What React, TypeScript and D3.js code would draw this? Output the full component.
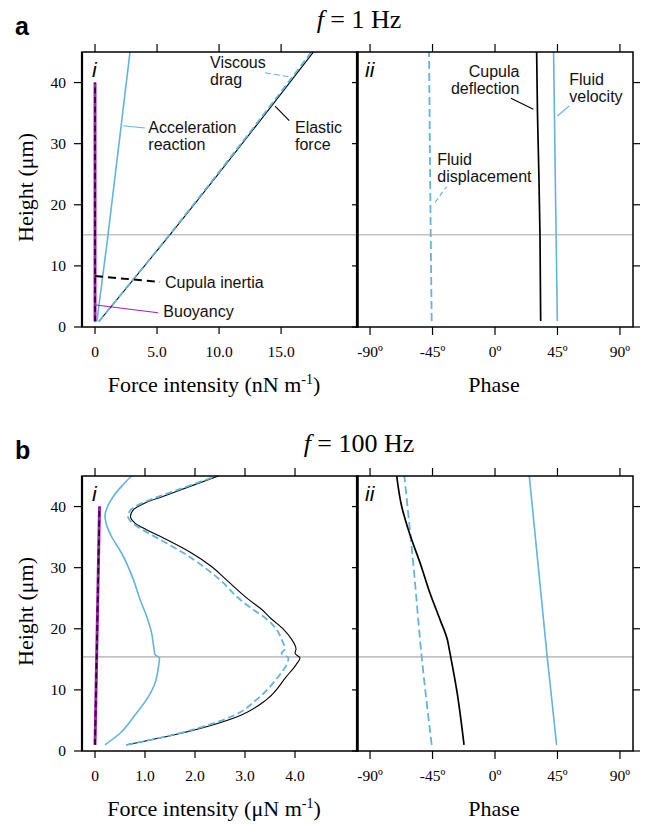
import React from "react";
import * as d3 from "d3";

type P = [number, number]; // [height µm, value]

// ---- tick values / labels ----
const heightTicks = [0, 10, 20, 30, 40];
const forceTicksA = [0, 5, 10, 15];
const forceTickLabelsA = ["0", "5.0", "10.0", "15.0"];
const forceTicksB = [0, 1, 2, 3, 4];
const forceTickLabelsB = ["0", "1.0", "2.0", "3.0", "4.0"];
const phaseTicks = [-90, -45, 0, 45, 90];
const phaseTickLabels = ["-90º", "-45º", "0º", "45º", "90º"];

// ---- f = 1 Hz : force intensity (nN m-1) ----
const aElastic: P[] = [[0.9, 0.32], [15.1, 6.05], [45, 17.6]];
const aViscous: P[] = [[0.9, 0.3], [15.1, 6.0], [45, 17.45]];
const aAccel: P[] = [[0.9, 0.15], [15.1, 1.05], [45, 2.82]];
const aInertia: P[] = [[0.9, 0], [40, 0]];
const aBuoyancy: P[] = [[0.9, 0], [40, 0]];
// ---- f = 1 Hz : phase (deg) ----
const aDispPhase: P[] = [[1, -45.6], [15.1, -46.3], [45, -47.5]];
const aDeflPhase: P[] = [[1, 32.9], [15.1, 32.4], [25, 31.6], [35, 30.6], [45, 30.0]];
const aVelPhase: P[] = [[1, 44.9], [15.1, 44.0], [45, 42.2]];

// ---- f = 100 Hz : force intensity (µN m-1) ----
const bElastic: P[] = [
  [1, 0.63], [2.9, 1.72], [5.9, 2.93], [8.4, 3.43], [12.2, 3.83], [14.1, 4.02], [15.2, 4.1],
  [16.0, 4.0], [16.7, 4.02], [18.3, 3.93], [19.9, 3.77], [21.6, 3.53], [23.2, 3.33], [24.8, 3.07],
  [28, 2.63], [30.2, 2.33], [32.4, 1.93], [34.6, 1.43], [36.2, 1.03], [37.3, 0.8], [38.4, 0.71],
  [39.5, 0.77], [40.6, 1.0], [41.7, 1.37], [43.3, 1.9], [45, 2.47],
];
const bViscous: P[] = [
  [1, 0.63], [2.9, 1.68], [5.9, 2.8], [8.4, 3.23], [12.2, 3.67], [14.1, 3.83], [15.2, 3.87],
  [16.0, 3.73], [16.7, 3.8], [18.3, 3.73], [19.9, 3.63], [21.6, 3.43], [23.1, 3.17], [24.8, 2.9],
  [28, 2.5], [32.4, 1.77], [34.6, 1.3], [36.2, 0.95], [37.3, 0.75], [38.4, 0.66], [39.5, 0.72],
  [40.6, 0.95], [41.7, 1.3], [43.3, 1.85], [45, 2.43],
];
const bAccel: P[] = [
  [1, 0.2], [2.9, 0.5], [5.9, 0.8], [8.4, 1.03], [11.1, 1.2], [13.8, 1.27], [15.2, 1.29],
  [15.8, 1.2], [16.7, 1.18], [19.4, 1.13], [22.1, 1.03], [24.8, 0.9], [28, 0.77], [32.4, 0.53],
  [35.1, 0.33], [37.3, 0.22], [38.4, 0.2], [40, 0.25], [41.7, 0.37], [43.3, 0.53], [45, 0.73],
];
const bInertia: P[] = [[1, 0], [40, 0.09]];
const bBuoyancy: P[] = [[1, 0], [40, 0.09]];
// ---- f = 100 Hz : phase (deg) ----
const bDispPhase: P[] = [[1, -45.6], [15.4, -52.8], [30, -58.6], [45, -65.3]];
const bDeflPhase: P[] = [
  [1, -22.3], [10, -27.6], [15.4, -31.9], [16.6, -32.9], [18.2, -34.3], [21.5, -39.6],
  [25.8, -46.8], [30, -52.8], [36.2, -62.4], [40, -67.2], [45, -70.8],
];
const bVelPhase: P[] = [[1, 44.4], [15.4, 37.6], [45, 24.7]];

const BLUE = "#62b4dc";
const PURPLE = "#a321b3";
const SERIF = "'Liberation Serif', 'Times New Roman', serif";
const SANS = "'Liberation Sans', Arial, sans-serif";

type Ann = { x: number; y: number; lines: string[]; anchor?: string };
type Leader = { x1: number; y1: number; x2: number; y2: number; color: string; dash?: string; w?: number };

const aForceNotes: Ann[] = [
  { x: 4.3, y: 31.75, lines: ["Acceleration", "reaction"] },
  { x: 16.12, y: 31.75, lines: ["Elastic", "force"] },
  { x: 9.27, y: 42.33, lines: ["Viscous", "drag"] },
  { x: 5.64, y: 6.43, lines: ["Cupula inertia"] },
  { x: 5.51, y: 1.6, lines: ["Buoyancy"] },
];
const aForceLeaders: Leader[] = [
  { x1: 2.26, y1: 32.94, x2: 4.03, y2: 32.56, color: BLUE },
  { x1: 13.7, y1: 41.6, x2: 15.86, y2: 40.86, color: BLUE, dash: "6,3" },
  { x1: 14.51, y1: 36.16, x2: 15.66, y2: 33.76, color: "#000" },
  { x1: 0, y1: 8.35, x2: 5.24, y2: 7.36, color: "#000", dash: "8,5", w: 2 },
  { x1: 0.08, y1: 3.6, x2: 5.08, y2: 2.34, color: PURPLE },
];
const aPhaseNotes: Ann[] = [
  { x: 17.6, y: 40.86, lines: ["Cupula", "deflection"], anchor: "end" },
  { x: 53.5, y: 39.6, lines: ["Fluid", "velocity"] },
  { x: -41.6, y: 26.5, lines: ["Fluid", "displacement"] },
];
const aPhaseLeaders: Leader[] = [
  { x1: 11.5, y1: 37.42, x2: 27.6, y2: 35.62, color: "#000" },
  { x1: 44.9, y1: 34.53, x2: 53.5, y2: 36.16, color: BLUE },
  { x1: -43.2, y1: 20.4, x2: -34.8, y2: 22.96, color: BLUE, dash: "5,3" },
];

type RowProps = {
  top: number;
  bottom: number;
  forceDomain: [number, number];
  forceTicks: number[];
  forceLabels: string[];
  elastic: P[]; viscous: P[]; accel: P[]; inertia: P[]; buoyancy: P[];
  disp: P[]; defl: P[]; vel: P[];
  band: number;
  title: string;
  letter: string;
  unit: string;
  forceNotes?: Ann[]; forceLeaders?: Leader[];
  phaseNotes?: Ann[]; phaseLeaders?: Leader[];
};

function Row(p: RowProps) {
  const FX0 = 82, FX1 = 358, PX0 = 357, PX1 = 633;
  const y = d3.scaleLinear().domain([0, 45]).range([p.bottom, p.top]);
  const xf = d3.scaleLinear().domain(p.forceDomain).range([FX0, FX1]);
  const xp = d3.scaleLinear().domain([-99.4, 99.4]).range([PX0, PX1]);
  const lf = d3.line<P>().x((d) => xf(d[1])).y((d) => y(d[0])).curve(d3.curveMonotoneY);
  const lp = d3.line<P>().x((d) => xp(d[1])).y((d) => y(d[0])).curve(d3.curveMonotoneY);
  const midY = (p.top + p.bottom) / 2;

  const notes = (arr: Ann[] | undefined, sx: d3.ScaleLinear<number, number>) =>
    (arr || []).map((a, i) => (
      <text key={i} x={sx(a.x)} y={y(a.y)} fontFamily={SANS} fontSize={16} textAnchor={a.anchor || "start"} fill="#111">
        {a.lines.map((t, j) => (
          <tspan key={j} x={sx(a.x)} dy={j === 0 ? 0 : 17}>{t}</tspan>
        ))}
      </text>
    ));
  const leaders = (arr: Leader[] | undefined, sx: d3.ScaleLinear<number, number>) =>
    (arr || []).map((l, i) => (
      <line key={i} x1={sx(l.x1)} y1={y(l.y1)} x2={sx(l.x2)} y2={y(l.y2)} stroke={l.color}
        strokeWidth={l.w || 1.1} strokeDasharray={l.dash} />
    ));

  return (
    <g>
      {/* titles */}
      <text x={15} y={p.top - 17} fontFamily={SANS} fontWeight="bold" fontSize={25}>{p.letter}</text>
      <text x={359} y={p.top - 24} textAnchor="middle" fontFamily={SERIF} fontSize={26}>
        <tspan fontStyle="italic">f</tspan> = {p.title}
      </text>

      {/* horizontal band line */}
      <line x1={FX0} x2={PX1} y1={y(p.band)} y2={y(p.band)} stroke="#c2c2c2" strokeWidth={1.6} />

      {/* ---- force panel ---- */}
      {heightTicks.map((t) => (
        <g key={t}>
          <line x1={FX0 - 8} x2={FX0} y1={y(t)} y2={y(t)} stroke="#000" strokeWidth={1.2} />
          <text x={FX0 - 16} y={y(t)} dy="0.35em" textAnchor="end" fontFamily={SERIF} fontSize={15.5}>{t}</text>
          <line x1={PX0 - 5} x2={PX0} y1={y(t)} y2={y(t)} stroke="#000" strokeWidth={1.2} />
          <line x1={PX1} x2={PX1 + 7} y1={y(t)} y2={y(t)} stroke="#000" strokeWidth={1.2} />
        </g>
      ))}
      {p.forceTicks.map((t, i) => (
        <g key={t}>
          <line x1={xf(t)} x2={xf(t)} y1={p.top - 8} y2={p.top} stroke="#000" strokeWidth={1.2} />
          <line x1={xf(t)} x2={xf(t)} y1={p.bottom} y2={p.bottom + 7} stroke="#000" strokeWidth={1.2} />
          <text x={xf(t)} y={p.bottom + 30} textAnchor="middle" fontFamily={SERIF} fontSize={15.5}>{p.forceLabels[i]}</text>
        </g>
      ))}
      {phaseTicks.map((t, i) => (
        <g key={t}>
          <line x1={xp(t)} x2={xp(t)} y1={p.top - 8} y2={p.top} stroke="#000" strokeWidth={1.2} />
          <line x1={xp(t)} x2={xp(t)} y1={p.bottom} y2={p.bottom + 8} stroke="#000" strokeWidth={1.2} />
          <text x={xp(t)} y={p.bottom + 30} textAnchor="middle" fontFamily={SERIF} fontSize={15.5}>{phaseTickLabels[i]}</text>
        </g>
      ))}

      {/* force series */}
      <path d={lf(p.accel) || ""} fill="none" stroke={BLUE} strokeWidth={1.6} />
      <path d={lf(p.elastic) || ""} fill="none" stroke="#000" strokeWidth={1.1} />
      <path d={lf(p.viscous) || ""} fill="none" stroke={BLUE} strokeWidth={1.8} strokeDasharray="7,3.5" />
      <path d={lf(p.buoyancy) || ""} fill="none" stroke={PURPLE} strokeWidth={3} />
      <path d={lf(p.inertia) || ""} fill="none" stroke="#000" strokeOpacity={0.75} strokeWidth={1.8} strokeDasharray="6,3.5" />
      {leaders(p.forceLeaders, xf)}
      {notes(p.forceNotes, xf)}

      {/* phase series */}
      <path d={lp(p.disp) || ""} fill="none" stroke={BLUE} strokeWidth={1.8} strokeDasharray="8,4" />
      <path d={lp(p.vel) || ""} fill="none" stroke={BLUE} strokeWidth={1.6} />
      <path d={lp(p.defl) || ""} fill="none" stroke="#000" strokeWidth={1.7} />
      {leaders(p.phaseLeaders, xp)}
      {notes(p.phaseNotes, xp)}

      {/* panel frames */}
      <rect x={FX0} y={p.top} width={FX1 - FX0} height={p.bottom - p.top} fill="none" stroke="#000" strokeWidth={1.5} />
      <rect x={PX0} y={p.top} width={PX1 - PX0} height={p.bottom - p.top} fill="none" stroke="#000" strokeWidth={1.5} />
      <line x1={FX0} x2={FX0} y1={p.top} y2={p.bottom} stroke="#000" strokeWidth={2.2} />
      <line x1={PX0} x2={PX0} y1={p.top} y2={p.bottom} stroke="#000" strokeWidth={2.2} />

      {/* panel numerals */}
      <text x={xf(p.forceDomain[0]) + 10} y={p.top + 25} fontFamily={SANS} fontStyle="italic" fontSize={21}>i</text>
      <text x={PX0 + 8} y={p.top + 25} fontFamily={SANS} fontStyle="italic" fontSize={21}>ii</text>

      {/* axis titles */}
      <text x={214} y={p.bottom + 65} textAnchor="middle" fontFamily={SERIF} fontSize={22}>
        Force intensity ({p.unit} m<tspan dy={-8} fontSize={14}>-1</tspan><tspan dy={8}>)</tspan>
      </text>
      <text x={494} y={p.bottom + 65} textAnchor="middle" fontFamily={SERIF} fontSize={22}>Phase</text>
      <text transform={`translate(33,${midY - 2}) rotate(-90)`} textAnchor="middle" fontFamily={SERIF} fontSize={22}>
        Height (μm)
      </text>
    </g>
  );
}

export default function App() {
  return (
    <svg width={645} height={824} style={{ position: "absolute", left: 0, top: 0, background: "#fff" }}>
      <rect width={645} height={824} fill="#fff" />
      <Row top={52} bottom={327} forceDomain={[-1.05, 21.2]} forceTicks={forceTicksA} forceLabels={forceTickLabelsA}
        elastic={aElastic} viscous={aViscous} accel={aAccel} inertia={aInertia} buoyancy={aBuoyancy}
        disp={aDispPhase} defl={aDeflPhase} vel={aVelPhase} band={15.1} title="1 Hz" letter="a" unit="nN"
        forceNotes={aForceNotes} forceLeaders={aForceLeaders} phaseNotes={aPhaseNotes} phaseLeaders={aPhaseLeaders} />
      <Row top={476} bottom={751} forceDomain={[-0.26, 5.26]} forceTicks={forceTicksB} forceLabels={forceTickLabelsB}
        elastic={bElastic} viscous={bViscous} accel={bAccel} inertia={bInertia} buoyancy={bBuoyancy}
        disp={bDispPhase} defl={bDeflPhase} vel={bVelPhase} band={15.4} title="100 Hz" letter="b" unit="μN" />
    </svg>
  );
}
